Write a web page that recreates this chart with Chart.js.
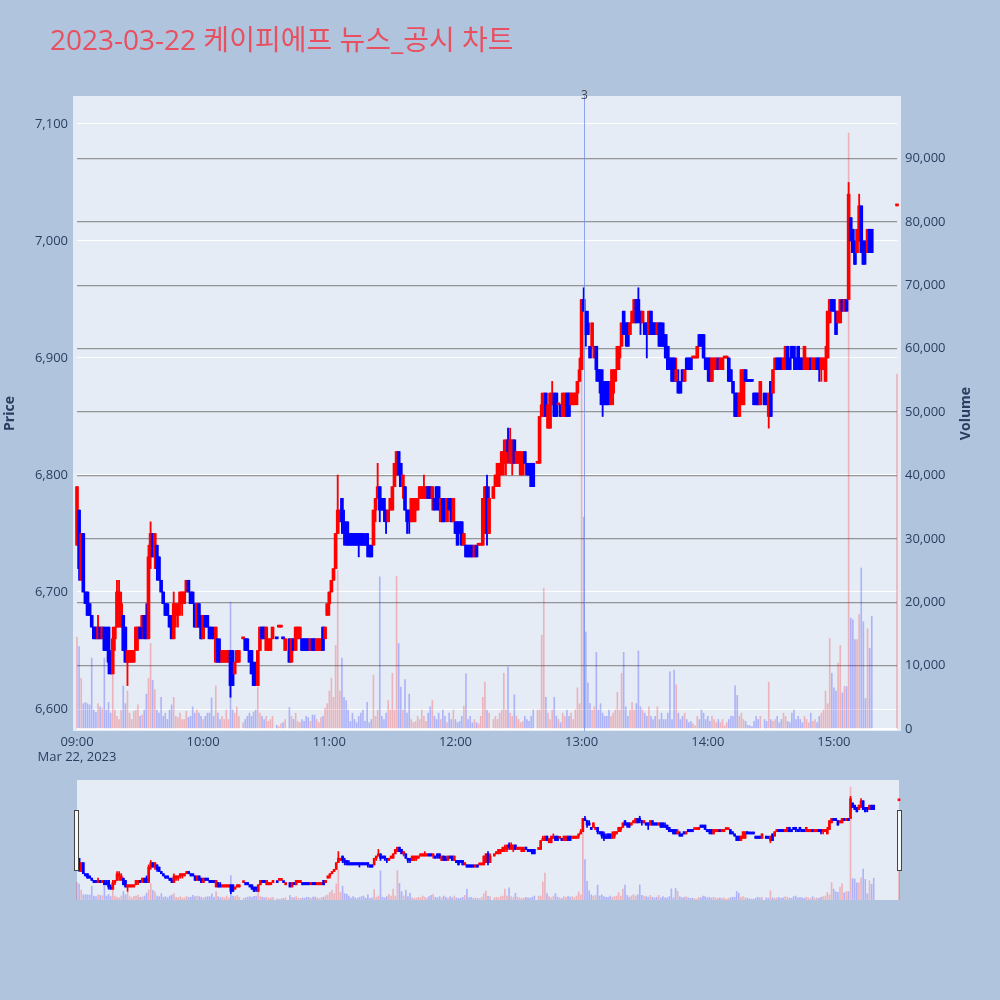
<!DOCTYPE html>
<html>
<head>
<meta charset="utf-8">
<script src="https://cdn.jsdelivr.net/npm/chart.js@4.4.0/dist/chart.umd.min.js"></script>
<style>
  html, body { margin: 0; padding: 0; background: #b0c4de; }
  #wrap { position: relative; width: 1000px; height: 1000px; }
  #main { position: absolute; left: 0; top: 0; }
  #slider { position: absolute; left: 70px; top: 775px; }
</style>
</head>
<body>
<div id="wrap">
  <canvas id="main" width="1000" height="1000"></canvas>
  <canvas id="slider" width="835" height="130"></canvas>
</div>
<script>
// one entry per minute after 09:00 (index 0 = 09:00, 390 = 15:30 closing auction)
const opens = [
  6740,6770,6710,6750,6700,6700,6690,6680,6670,6670, // 09:00
  6660,6670,6660,6670,6660,6670,6640,6630,6660,6670,
  6690,6670,6680,6670,6640,6640,6640,6640,6650,6660,
  6670,6670,6680,6680,6660,6730,6750,6730,6740,6730,
  6710,6700,6690,6690,6680,6670,6660,6680,6680,6690,
  6690,6690,6700,6710,6700,6700,6690,6670,6690,6680,
  6660,6680,6680,6670,6670,6660,6640,6660,6650,6640, // 10:00
  6640,6640,6640,6650,6650,6630,6640,6640,null,6660,
  6660,6660,6650,6650,6640,6640,6620,6650,6670,6670,
  6650,6650,6650,6660,null,6660,6670,6670,6660,6650,
  null,6660,6640,6660,6650,6660,6660,6660,6660,6660,
  6660,6650,6660,6660,6650,6650,6650,6670,6660,6680,
  6690,6700,6710,6720,6750,6760,6780,6760,6760,6750, // 11:00
  6750,6750,6750,6750,6750,6750,6750,6740,6750,6740,
  6740,6740,6770,6780,6790,6780,6780,6770,6760,6770,
  6770,6790,6800,6820,6810,6790,6790,6770,6770,6760,
  6760,6770,6770,6780,6780,6780,6780,6790,6790,6780,
  6780,6790,6790,6760,6780,6770,6760,6780,6780,6760,
  6760,6760,6760,6760,6740,6740,6740,6740,6740,6730, // 12:00
  6740,6740,6740,6740,6750,6790,6750,null,6780,6790,
  6790,6800,6800,6810,6810,6830,6810,6810,6830,6810,
  6810,6800,6800,6820,6810,6810,6810,6810,null,6810,
  6810,6850,6850,6870,6840,6840,6860,6870,6870,6860,
  6860,6850,6850,6870,6870,6860,6860,6860,6870,6880,
  6890,6950,6940,6930,6910,6910,6900,6910,6890,6890, // 13:00
  6880,6870,6880,6880,6860,6870,6880,6890,6900,6910,
  6940,6930,6930,6920,6930,6930,6950,6950,6940,6930,
  6930,6930,6920,6940,6930,6930,6920,6930,6930,6920,
  6920,6910,6900,6900,6900,6880,6880,6880,6890,6880,
  6900,6900,6900,6900,6900,6900,6920,6920,6920,6900,
  6900,6900,6880,6890,6890,6900,6890,6890,6900,6900, // 14:00
  6900,6890,6880,6870,6870,6850,6860,6860,6890,6880,
  6880,6880,6870,6870,6870,6860,null,6870,6860,6850,
  6880,6870,6890,6900,6900,6900,6890,6890,6910,6900,
  6910,6910,6900,6910,6900,6900,6890,6890,6890,6900,
  6890,6890,6900,6900,6890,6890,6880,6900,6930,6950,
  6950,6940,6930,6930,6950,6940,6950,6950,7020,7010, // 15:00
  7000,6990,7000,7030,7000,7000,6990,7010,7010,null,
  null,null,null,null,null,null,null,null,null,null,
  7030
];
const highs = [
  6790,6770,6750,6750,6700,6700,6690,6680,6670,6670,
  6680,6670,6670,6670,6670,6670,6650,6670,6670,6710,
  6710,6700,6680,6670,6650,6650,6650,6650,6670,6670,
  6670,6680,6680,6690,6740,6760,6750,6750,6740,6730,
  6710,6700,6690,6690,6680,6680,6700,6690,6690,6700,
  6700,6700,6710,6710,6700,6700,6690,6690,6690,6680,
  6680,6680,6680,6670,6670,6670,6670,6660,6660,6650,
  6650,6650,6650,6650,6650,6640,6650,6650,null,6660,
  6660,6660,6650,6650,6640,6640,6650,6670,6670,6670,
  6670,6660,6660,6670,null,6660,6670,6670,6660,6660,
  null,6660,6660,6660,6670,6670,6670,6660,6660,6660,
  6660,6660,6660,6660,6660,6660,6660,6670,6670,6690,
  6700,6710,6720,6750,6800,6770,6780,6770,6760,6760,
  6750,6750,6750,6750,6750,6750,6750,6750,6750,6740,
  6740,6770,6780,6810,6790,6780,6780,6770,6770,6780,
  6790,6810,6820,6820,6810,6800,6790,6770,6770,6780,
  6780,6780,6780,6790,6790,6800,6790,6790,6790,6790,
  6780,6790,6790,6780,6780,6780,6780,6780,6780,6780,
  6760,6760,6760,6760,6750,6740,6740,6740,6740,6740,
  6740,6740,6740,6780,6790,6800,6790,null,6790,6800,
  6810,6810,6820,6830,6830,6840,6840,6830,6830,6820,
  6820,6820,6820,6820,6810,6810,6810,6810,null,6810,
  6850,6870,6870,6870,6860,6870,6880,6870,6870,6860,
  6860,6870,6870,6870,6870,6870,6870,6870,6880,6900,
  6950,6960,6940,6940,6910,6930,6910,6910,6890,6890,
  6890,6880,6880,6880,6890,6890,6890,6910,6910,6930,
  6940,6930,6930,6930,6940,6950,6950,6960,6940,6940,
  6930,6930,6940,6940,6930,6930,6930,6930,6930,6930,
  6920,6910,6900,6900,6900,6900,6890,6880,6890,6890,
  6900,6900,6900,6900,6900,6910,6920,6920,6920,6900,
  6900,6900,6900,6900,6900,6900,6900,6900,6900,6900,
  6900,6890,6880,6870,6870,6870,6890,6890,6890,6880,
  6880,6880,6870,6870,6870,6880,null,6870,6870,6870,
  6880,6890,6900,6900,6900,6900,6900,6910,6910,6900,
  6910,6910,6900,6910,6900,6900,6910,6900,6900,6900,
  6900,6900,6900,6900,6900,6900,6910,6940,6950,6950,
  6950,6940,6940,6950,6950,6950,6950,7050,7020,7010,
  7000,7010,7040,7030,7000,7000,7010,7010,7010,null,
  null,null,null,null,null,null,null,null,null,null,
  7030
];
const lows = [
  6740,6710,6710,6700,6690,6680,6680,6670,6660,6660,
  6660,6660,6660,6650,6650,6630,6630,6630,6650,6670,
  6670,6670,6650,6640,6620,6640,6640,6640,6650,6650,
  6660,6660,6660,6660,6660,6720,6730,6720,6710,6710,
  6700,6690,6680,6680,6670,6660,6660,6670,6670,6680,
  6680,6690,6700,6700,6690,6690,6670,6670,6670,6660,
  6660,6670,6670,6660,6660,6660,6640,6640,6640,6640,
  6640,6640,6640,6610,6620,6630,6640,6640,null,6660,
  6650,6650,6640,6630,6620,6620,6620,6650,6660,6660,
  6650,6650,6650,6660,null,6660,6670,6670,6660,6650,
  null,6640,6640,6650,6650,6660,6660,6650,6650,6650,
  6650,6650,6650,6650,6650,6650,6650,6650,6660,6680,
  6680,6700,6710,6720,6750,6760,6750,6740,6740,6740,
  6740,6740,6740,6740,6730,6740,6740,6740,6730,6730,
  6730,6740,6760,6780,6760,6770,6760,6750,6760,6770,
  6770,6790,6800,6800,6790,6780,6770,6750,6750,6760,
  6760,6760,6770,6780,6780,6780,6780,6780,6780,6770,
  6770,6770,6770,6760,6760,6760,6760,6770,6760,6760,
  6750,6740,6750,6740,6740,6730,6730,6730,6730,6730,
  6730,6740,6740,6740,6750,6740,6750,null,6780,6790,
  6790,6790,6800,6800,6800,6810,6810,6800,6810,6810,
  6810,6800,6800,6810,6800,6800,6790,6790,null,6810,
  6810,6850,6850,6850,6840,6840,6860,6850,6850,6860,
  6850,6850,6850,6850,6850,6860,6860,6860,6860,6880,
  6890,6940,6910,6920,6900,6910,6900,6880,6880,6860,
  6850,6860,6860,6860,6860,6860,6880,6890,6890,6910,
  6920,6910,6910,6920,6930,6930,6930,6930,6920,6930,
  6920,6900,6920,6920,6920,6920,6920,6910,6910,6910,
  6900,6890,6890,6880,6880,6880,6870,6870,6880,6880,
  6890,6890,6890,6900,6900,6900,6910,6910,6900,6890,
  6880,6880,6880,6890,6890,6890,6890,6890,6900,6900,
  6880,6880,6870,6850,6850,6850,6860,6860,6880,6880,
  6880,6880,6860,6860,6860,6860,null,6860,6860,6840,
  6850,6870,6890,6890,6890,6890,6890,6890,6890,6890,
  6900,6890,6890,6890,6890,6890,6890,6890,6890,6890,
  6890,6890,6890,6880,6880,6890,6880,6900,6930,6940,
  6940,6920,6930,6930,6940,6940,6940,6950,7000,6990,
  6980,6990,7000,6990,6980,6980,6990,6990,6990,null,
  null,null,null,null,null,null,null,null,null,null,
  7030
];
const closes = [
  6790,6720,6750,6700,6690,6680,6680,6670,6660,6660,
  6670,6660,6670,6650,6650,6640,6630,6660,6670,6700,
  6700,6690,6650,6640,6650,6650,6650,6650,6670,6670,
  6660,6680,6660,6660,6730,6750,6730,6750,6720,6710,
  6700,6690,6680,6680,6670,6660,6690,6690,6690,6700,
  6700,6700,6710,6700,6690,6690,6670,6690,6670,6660,
  6680,6670,6670,6660,6660,6660,6670,6640,6640,6650,
  6650,6650,6650,6620,6620,6640,6650,6650,null,6660,
  6650,6650,6640,6630,6620,6630,6650,6670,6660,6660,
  6670,6660,6660,6670,null,6660,6670,6670,6660,6660,
  null,6640,6660,6650,6670,6670,6670,6650,6650,6650,
  6650,6660,6650,6650,6660,6660,6660,6650,6670,6690,
  6700,6710,6720,6750,6770,6770,6760,6750,6740,6740,
  6740,6740,6740,6740,6740,6740,6740,6740,6740,6730,
  6730,6770,6780,6790,6770,6770,6770,6760,6770,6780,
  6790,6810,6820,6800,6790,6800,6770,6760,6760,6780,
  6780,6780,6780,6790,6790,6790,6790,6780,6780,6790,
  6770,6780,6770,6780,6760,6760,6780,6770,6760,6780,
  6750,6740,6750,6740,6750,6730,6730,6730,6730,6740,
  6730,6740,6740,6780,6790,6750,6780,null,6790,6800,
  6810,6810,6820,6820,6830,6820,6830,6830,6810,6820,
  6820,6820,6810,6810,6800,6800,6790,6790,null,6810,
  6850,6860,6870,6850,6860,6870,6870,6850,6850,6860,
  6850,6870,6870,6850,6850,6870,6870,6870,6880,6890,
  6950,6940,6920,6920,6900,6930,6910,6890,6880,6870,
  6860,6860,6860,6860,6880,6890,6890,6910,6910,6930,
  6920,6920,6910,6930,6940,6950,6930,6940,6930,6940,
  6920,6920,6940,6920,6920,6920,6930,6910,6910,6910,
  6900,6890,6890,6880,6880,6890,6870,6870,6880,6890,
  6890,6890,6890,6900,6900,6910,6910,6910,6900,6890,
  6890,6880,6900,6900,6900,6890,6900,6900,6900,6900,
  6880,6880,6870,6850,6850,6870,6890,6890,6880,6880,
  6880,6880,6860,6860,6860,6880,null,6860,6860,6870,
  6850,6890,6900,6890,6890,6890,6900,6910,6890,6890,
  6900,6900,6890,6900,6890,6890,6910,6900,6900,6890,
  6900,6900,6890,6890,6900,6900,6900,6940,6950,6940,
  6940,6920,6940,6950,6940,6950,6940,7040,7000,6990,
  6980,7010,7030,6990,6980,6990,7010,6990,6990,null,
  null,null,null,null,null,null,null,null,null,null,
  7030
];
const volumes = [
  14500,13000,8000,4000,4200,4000,3800,11200,3000,2600,
  4000,3500,3200,11200,3000,4200,2500,8500,3000,2000,
  1500,3000,6800,4000,6000,2500,1500,2800,3000,3800,
  2000,2200,3000,5500,8000,13500,7700,6200,3000,2500,
  5000,2000,2500,1500,3000,3800,5000,2000,1800,2500,
  1500,1500,2800,1800,2000,3500,2500,3000,2500,2000,
  1500,2000,2500,2500,4900,2000,6800,2500,1500,2000,
  1500,3000,1500,20000,3000,2500,3500,2000,null,1000,
  1500,2000,2500,2000,2700,3000,6600,2500,2000,1500,
  2000,1200,1500,2000,null,600,400,800,1000,1500,
  null,3400,2000,1500,2500,1200,1000,1500,1200,2000,
  1800,1200,2200,2200,1500,1000,1800,2000,3300,4000,
  6000,8000,5000,13200,25000,6000,11200,5000,4500,3000,
  1200,2500,1500,1000,2000,2500,3000,1200,4200,1000,
  1500,8500,2000,3000,24000,2000,1500,2500,4500,3000,
  8800,3000,24100,13500,6600,3000,7800,2500,5500,1500,
  1000,1200,2000,1500,3000,2000,1200,2500,3500,4500,
  2000,1500,2500,1500,3000,2000,1000,2500,1500,3000,
  1500,1000,1200,2000,3600,8700,1500,2000,1000,1500,
  1000,800,2000,5000,7400,3000,2500,null,1500,2000,
  1500,2500,3000,8800,3000,9800,2500,2000,5400,2000,
  1500,1000,1200,2000,1500,1200,2000,3000,null,3000,
  3000,14800,22200,5000,2500,1500,3000,5000,2000,1500,
  1000,2500,2000,3000,2000,2500,1500,3000,6500,4000,
  62000,33400,15300,7300,4000,3000,3500,12100,3000,4000,
  2500,2000,2000,3000,2000,2500,3000,5800,3000,8800,
  12100,3500,2000,3000,4200,3000,4000,12300,3500,3000,
  2500,2000,3500,2000,1500,2000,3500,1500,2500,1500,
  1500,2500,9000,1500,9300,7000,2500,1500,2000,2500,
  1500,1000,1200,800,500,2000,1500,3000,2500,1500,
  2000,1200,2000,1500,1000,1500,1000,1500,500,1000,
  1500,2000,2000,6800,5300,2000,2500,1500,1200,600,
  500,400,1200,2000,1500,2000,null,1500,1200,7400,
  1500,1200,1500,2000,1000,1500,2500,2000,1200,1000,
  2500,3000,1500,2000,1500,1000,2000,1500,1000,2500,
  1200,1500,1000,2000,2500,3000,6000,4000,14300,8800,
  6500,6000,10400,13200,5700,6700,6700,94000,17500,17200,
  14100,14100,18100,25400,16900,4800,15800,12700,17800,null,
  null,null,null,null,null,null,null,null,null,null,
  56000
];

const hourMinutes = [0, 60, 120, 180, 240, 300, 360];
const hourLabels = ["09:00", "10:00", "11:00", "12:00", "13:00", "14:00", "15:00"];
const dateLabel = "Mar 22, 2023";
const priceTicks = [6600, 6700, 6800, 6900, 7000, 7100];
const volumeTicks = [0, 10000, 20000, 30000, 40000, 50000, 60000, 70000, 80000, 90000];
const newsMinutes = [241.3];
const newsLabels = ["3"];

const titleText = "2023-03-22 케이피에프 뉴스_공시 차트";
const upColor = "#ff0000";
const downColor = "#0000ff";
const upVolColor = "rgba(255,0,0,0.24)";
const downVolColor = "rgba(0,0,255,0.24)";
const textColor = "#2a3f5f";
const fontFamily = "'Open Sans', 'Noto Sans CJK KR', sans-serif";

const priceMin = 6581.2, priceMax = 7123.9;
const volMin = -315, volMax = 99842;

Chart.defaults.font.family = fontFamily;

// candle direction, doji compared with previous close like plotly does
const isUp = [];
let prevClose = null, prevUp = true;
for (let i = 0; i < opens.length; i++) {
  if (opens[i] == null) { isUp.push(null); continue; }
  let up;
  if (closes[i] !== opens[i]) up = closes[i] > opens[i];
  else if (prevClose !== null && closes[i] !== prevClose) up = closes[i] > prevClose;
  else up = prevUp;
  isUp.push(up);
  prevUp = up;
  prevClose = closes[i];
}

function buildDatasets(bodyW, wickW, volW) {
  const vol = [], wick = [], body = [], volColors = [], colors = [];
  for (let i = 0; i < opens.length; i++) {
    if (opens[i] == null) continue;
    const up = isUp[i];
    vol.push({ x: i, y: volumes[i] });
    volColors.push(up ? upVolColor : downVolColor);
    wick.push({ x: i, y: [lows[i], highs[i]] });
    body.push({ x: i, y: [opens[i], closes[i]] });
    colors.push(up ? upColor : downColor);
  }
  const clip = { left: 5, right: 5, top: 0, bottom: 0 };
  return [
    { data: vol, yAxisID: "yVol", backgroundColor: volColors, barThickness: volW, grouped: false, order: 3, clip },
    { data: wick, yAxisID: "y", backgroundColor: colors, barThickness: wickW, grouped: false, order: 2, clip },
    { data: body, yAxisID: "y", backgroundColor: colors, barThickness: bodyW, minBarLength: 2, grouped: false, order: 1, clip },
  ];
}

const decor = {
  id: "decor",
  beforeDraw(chart) {
    const { ctx, chartArea: a } = chart;
    ctx.save();
    ctx.fillStyle = "#b0c4de";
    ctx.fillRect(0, 0, chart.width, chart.height);
    ctx.fillStyle = "#e5ecf6";
    ctx.fillRect(a.left - 4, a.top, a.right - a.left + 8, a.bottom - a.top);
    ctx.restore();
  },
  afterDatasetsDraw(chart) {
    const { ctx, chartArea: a, scales } = chart;
    ctx.save();
    newsMinutes.forEach((m, i) => {
      const x = Math.round(scales.x.getPixelForValue(m)) + 0.5;
      ctx.strokeStyle = "rgba(110,140,240,0.75)";
      ctx.lineWidth = 1;
      ctx.beginPath();
      ctx.moveTo(x, a.top);
      ctx.lineTo(x, a.bottom);
      ctx.stroke();
      ctx.fillStyle = "#444";
      ctx.font = "12px " + fontFamily;
      ctx.textAlign = "center";
      ctx.textBaseline = "middle";
      ctx.fillText(newsLabels[i], x, a.top);
    });
    ctx.restore();
  },
  afterDraw(chart) {
    const { ctx, chartArea: a } = chart;
    ctx.save();
    ctx.fillStyle = "#e8505f";
    ctx.font = "28px " + fontFamily;
    ctx.textAlign = "left";
    ctx.textBaseline = "alphabetic";
    ctx.fillText(titleText, 50, 50);

    const midY = (a.top + a.bottom) / 2;
    ctx.fillStyle = textColor;
    ctx.font = "bold 14px " + fontFamily;
    ctx.textAlign = "center";
    ctx.textBaseline = "middle";
    ctx.translate(10, midY);
    ctx.rotate(-Math.PI / 2);
    ctx.fillText("Price", 0, 0);
    ctx.restore();

    ctx.save();
    ctx.fillStyle = textColor;
    ctx.font = "bold 14px " + fontFamily;
    ctx.textAlign = "center";
    ctx.textBaseline = "middle";
    ctx.translate(966, midY);
    ctx.rotate(-Math.PI / 2);
    ctx.fillText("Volume", 0, 0);
    ctx.restore();
  },
};

new Chart(document.getElementById("main"), {
  type: "bar",
  data: { datasets: buildDatasets(3, 1.2, 1) },
  options: {
    responsive: false,
    animation: false,
    devicePixelRatio: 1,
    layout: { padding: { top: 96, left: 0, right: 0, bottom: 0 } },
    plugins: { legend: { display: false }, tooltip: { enabled: false } },
    scales: {
      x: {
        type: "linear",
        min: 0,
        max: 390,
        offset: false,
        grid: { display: false, drawTicks: false },
        border: { display: false },
        afterBuildTicks: (s) => { s.ticks = hourMinutes.map((v) => ({ value: v })); },
        afterFit: (s) => { s.height = 269; },
        ticks: {
          autoSkip: false,
          maxRotation: 0,
          padding: 3,
          color: textColor,
          font: { size: 13 },
          callback: (v, i) => (i === 0 ? [hourLabels[0], dateLabel] : hourLabels[i]),
        },
      },
      y: {
        position: "left",
        min: priceMin,
        max: priceMax,
        border: { display: false },
        grid: { color: "#ffffff", lineWidth: 1, drawTicks: false },
        afterBuildTicks: (s) => { s.ticks = priceTicks.map((v) => ({ value: v })); },
        afterFit: (s) => { s.width = 77; },
        ticks: {
          padding: 9,
          color: textColor,
          font: { size: 13 },
          callback: (v) => v.toLocaleString("en-US"),
        },
      },
      yVol: {
        position: "right",
        min: volMin,
        max: volMax,
        border: { display: false },
        grid: {
          color: (c) => (c.tick && c.tick.value === 0 ? "#ffffff" : "rgba(120,120,120,0.75)"),
          lineWidth: (c) => (c.tick && c.tick.value === 0 ? 2 : 1.3),
          drawTicks: false,
        },
        afterBuildTicks: (s) => { s.ticks = volumeTicks.map((v) => ({ value: v })); },
        afterFit: (s) => { s.width = 103; },
        ticks: {
          padding: 8,
          color: textColor,
          font: { size: 13 },
          callback: (v) => v.toLocaleString("en-US"),
        },
      },
    },
  },
  plugins: [decor],
});

const sliderDecor = {
  id: "sliderDecor",
  beforeDraw(chart) {
    const { ctx, chartArea: a } = chart;
    ctx.save();
    ctx.fillStyle = "#e5ecf6";
    ctx.fillRect(a.left, a.top, a.right - a.left, a.bottom - a.top);
    ctx.restore();
  },
  afterDraw(chart) {
    const { ctx, chartArea: a } = chart;
    ctx.save();
    ctx.fillStyle = "#f8f8f8";
    ctx.strokeStyle = "#444";
    ctx.lineWidth = 1;
    [a.left - 3, a.right - 2].forEach((x) => {
      ctx.fillRect(x, 35, 4, 60);
      ctx.strokeRect(x + 0.5, 35.5, 4, 60);
    });
    ctx.restore();
  },
};

new Chart(document.getElementById("slider"), {
  type: "bar",
  data: { datasets: buildDatasets(2, 1, 1) },
  options: {
    responsive: false,
    animation: false,
    devicePixelRatio: 1,
    layout: { padding: { left: 7, right: 6, top: 5, bottom: 5 } },
    plugins: { legend: { display: false }, tooltip: { enabled: false } },
    scales: {
      x: { type: "linear", min: 0, max: 390, offset: false, display: false },
      y: { min: priceMin, max: priceMax, display: false },
      yVol: { position: "right", min: volMin, max: volMax, display: false },
    },
  },
  plugins: [sliderDecor],
});
</script>
</body>
</html>
